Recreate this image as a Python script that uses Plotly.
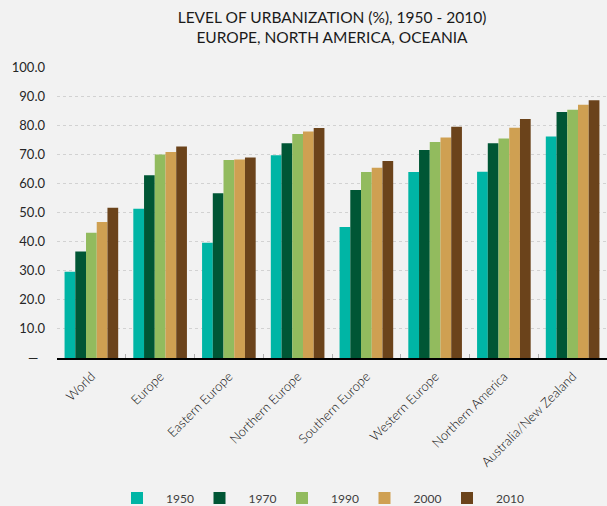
import plotly.graph_objects as go

categories = ["World", "Europe", "Eastern Europe", "Northern Europe", "Southern Europe",
              "Western Europe", "Northern America", "Australia/New Zealand"]
years = ["1950", "1970", "1990", "2000", "2010"]
v1950 = [29.6, 51.3, 39.6, 69.7, 45.0, 63.9, 64.0, 76.1]
v1970 = [36.6, 62.8, 56.6, 73.8, 57.7, 71.5, 73.8, 84.5]
v1990 = [43.0, 69.9, 68.0, 77.0, 63.9, 74.2, 75.4, 85.3]
v2000 = [46.7, 70.8, 68.2, 77.8, 65.4, 75.8, 79.1, 87.0]
v2010 = [51.6, 72.7, 68.9, 79.0, 67.7, 79.5, 82.1, 88.6]
series = [v1950, v1970, v1990, v2000, v2010]
colors = ["#00B5A5", "#005635", "#92BB5E", "#CFA052", "#6B431B"]
ytick_vals = [0, 10, 20, 30, 40, 50, 60, 70, 80, 90, 100]
ytick_text = ["—\u00a0\u00a0", "10.0", "20.0", "30.0", "40.0", "50.0", "60.0", "70.0", "80.0", "90.0", "100.0"]

FONT = "Lato, 'Open Sans', sans-serif"

fig = go.Figure()
for name, vals, c in zip(years, series, colors):
    fig.add_trace(go.Bar(x=categories, y=vals, name="\u2002\u2005" + name,
                         marker=dict(color=c, line=dict(width=0))))

fig.update_layout(
    width=607, height=506,
    paper_bgcolor="#f2f2f2", plot_bgcolor="#f2f2f2",
    margin=dict(l=57, r=0, t=67, b=148),
    barmode="group", bargap=0.22, bargroupgap=0,
    font=dict(family=FONT, color="#262626"),
    title=dict(text="LEVEL OF URBANIZATION (%), 1950 - 2010)<br>EUROPE, NORTH AMERICA, OCEANIA",
               x=0.5, xref="paper", xanchor="center",
               y=1 - 22.5 / 506, yref="container", yanchor="middle",
               font=dict(size=15.5, color="#1a1a1a", family=FONT)),
    legend=dict(orientation="h", x=117 / 607, xref="container", xanchor="left",
                y=1 - 498 / 506, yref="container", yanchor="middle",
                font=dict(size=12, color="#404040"),
                entrywidth=37.5, entrywidthmode="pixels",
                bgcolor="rgba(0,0,0,0)"),
    showlegend=True,
)
fig.update_xaxes(
    showline=True, linecolor="black", linewidth=1.5,
    ticks="inside", tickson="boundaries", ticklen=4, tickcolor="#b0b0b0",
    tickangle=-45, tickfont=dict(size=13, color="#111111", weight=300),
    ticklabelstandoff=4,
    showgrid=False,
)
fig.update_yaxes(
    range=[0, 100], tickvals=ytick_vals, ticktext=ytick_text,
    showgrid=True, gridcolor="#d2d2d2", griddash="dot", gridwidth=1,
    zeroline=False, showline=False, ticks="",
    ticklabelstandoff=11,
    tickfont=dict(size=13, color="#262626"),
)

fig.write_html("out.html", config={"displayModeBar": False},
               post_script="document.body.style.margin='0px';")
